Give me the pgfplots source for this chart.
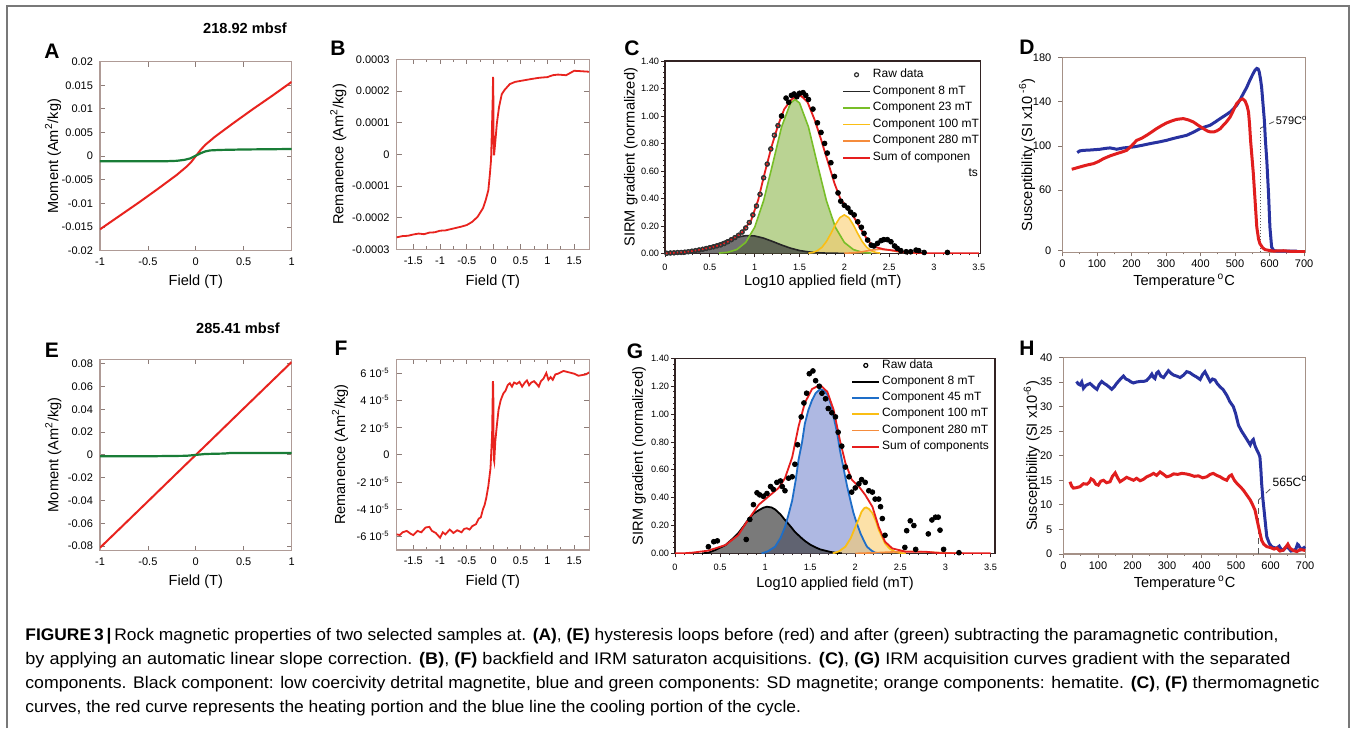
\documentclass[border=0pt]{standalone}
\usepackage{fontspec}
\setmainfont{Liberation Sans}
\usepackage{graphicx}
\usepackage{pgfplots}
\usepackage{pgfplotstable}
\pgfplotsset{compat=1.18}

\definecolor{hred}{RGB}{232,35,30}
\definecolor{hgreen}{RGB}{25,125,55}
\definecolor{boxc}{RGB}{175,155,150}
\definecolor{cbox}{RGB}{50,35,35}
\definecolor{dbox}{RGB}{165,145,135}
\definecolor{tred}{RGB}{225,30,30}
\definecolor{tblue}{RGB}{40,50,160}
\definecolor{cgreenl}{RGB}{120,190,40}
\definecolor{cgreenf}{RGB}{130,175,60}
\definecolor{cyell}{RGB}{250,190,20}
\definecolor{cyellf}{RGB}{250,205,110}
\definecolor{corange}{RGB}{245,140,60}
\definecolor{cblackf}{RGB}{60,60,60}
\definecolor{gbluel}{RGB}{30,110,200}
\definecolor{gbluef}{RGB}{140,155,215}
\definecolor{sumred}{RGB}{230,30,30}
\definecolor{framec}{RGB}{120,120,120}

% ---------- Panel A ----------
\pgfplotstableread{
x y
-1 -0.0155
-0.8 -0.0127
-0.6 -0.0099
-0.4 -0.0070
-0.3 -0.0055
-0.2 -0.0040
-0.1 -0.0023
-0.05 -0.0013
0 0.0000
0.05 0.0013
0.1 0.0024
0.2 0.0041
0.3 0.0056
0.4 0.0071
0.6 0.0100
0.8 0.0128
1 0.0157
}\tAred
\pgfplotstableread{
x y
-1 -0.0011
-0.5 -0.0011
-0.3 -0.00108
-0.2 -0.0010
-0.12 -0.0008
-0.06 -0.0005
0 0.0001
0.05 0.0006
0.1 0.0010
0.15 0.0012
0.25 0.0013
0.5 0.0014
1 0.0015
}\tAgreen
% ---------- Panel B ----------
\pgfplotstableread{
x y
-1.81 -0.000262
-1.7 -0.000258
-1.6 -0.000257
-1.5 -0.000253
-1.4 -0.000250
-1.3 -0.000252
-1.2 -0.000247
-1.1 -0.000246
-1.0 -0.000241
-0.9 -0.000240
-0.8 -0.000236
-0.7 -0.000232
-0.6 -0.000228
-0.5 -0.000223
-0.4 -0.000213
-0.3 -0.000197
-0.2 -0.000170
-0.15 -0.000145
-0.1 -0.000113
-0.07 -0.000060
-0.05 -0.000018
-0.03 0.000100
-0.02 0.000170
-0.012 0.000245
-0.008 0.000220
0.0 0.000000
0.008 0.000000
0.03 0.000040
0.06 0.000100
0.1 0.000150
0.15 0.000190
0.2 0.000203
0.3 0.000222
0.4 0.000229
0.5 0.000232
0.7 0.000238
0.85 0.000242
1.0 0.000244
1.1 0.000250
1.2 0.000252
1.35 0.000250
1.5 0.000264
1.6 0.000263
1.78 0.000261
}\tBred
% ---------- Panel E ----------
\pgfplotstableread{
x y
-1 -0.0815
-0.5 -0.0408
-0.1 -0.0081
0 0.0000
0.1 0.0081
0.5 0.0408
1 0.0815
}\tEred
\pgfplotstableread{
x y
-1 -0.0012
-0.5 -0.0012
-0.1 -0.0008
0 0.0000
0.1 0.0008
0.3 0.0012
0.35 0.0016
1 0.0017
}\tEgreen
% ---------- Panel F ----------
\pgfplotstableread{
x y
-1.81 -5.85e-5
-1.75 -5.9e-5
-1.7 -5.7e-5
-1.62 -5.6e-5
-1.55 -5.8e-5
-1.5 -5.9e-5
-1.42 -5.6e-5
-1.35 -5.7e-5
-1.27 -5.35e-5
-1.2 -5.3e-5
-1.15 -5.6e-5
-1.08 -5.75e-5
-1.0 -6.1e-5
-0.95 -5.7e-5
-0.9 -5.85e-5
-0.82 -5.5e-5
-0.75 -5.75e-5
-0.68 -5.55e-5
-0.6 -5.7e-5
-0.55 -5.45e-5
-0.5 -5.4e-5
-0.45 -5.5e-5
-0.4 -5.25e-5
-0.33 -5.1e-5
-0.28 -4.7e-5
-0.24 -4.6e-5
-0.2 -4.0e-5
-0.17 -3.7e-5
-0.14 -3.2e-5
-0.1 -2.3e-5
-0.06 -1.0e-5
-0.03 1.5e-5
-0.015 5.4e-5
-0.008 5.0e-5
0.0 -0.3e-5
0.01 -0.5e-5
0.03 1.0e-5
0.06 2.2e-5
0.09 3.3e-5
0.13 4.0e-5
0.18 4.5e-5
0.22 4.7e-5
0.26 5.1e-5
0.3 5.25e-5
0.34 5.0e-5
0.38 5.3e-5
0.43 5.2e-5
0.48 5.35e-5
0.53 5.0e-5
0.58 5.3e-5
0.62 5.45e-5
0.66 5.1e-5
0.7 5.3e-5
0.75 5.4e-5
0.8 5.2e-5
0.84 5.0e-5
0.88 5.4e-5
0.93 5.6e-5
0.98 6.0e-5
1.02 5.5e-5
1.06 5.7e-5
1.1 5.5e-5
1.15 5.9e-5
1.2 5.95e-5
1.3 6.15e-5
1.4 6.05e-5
1.5 5.95e-5
1.58 5.8e-5
1.65 5.85e-5
1.72 5.9e-5
1.78 6.05e-5
}\tFred
% ---------- Panel C ----------
\pgfplotstableread{
x y
0 0.001
0.1 0.003
0.2 0.007
0.3 0.014
0.4 0.027
0.5 0.047
0.6 0.071
0.7 0.097
0.8 0.118
0.9 0.129
1.0 0.127
1.1 0.111
1.2 0.087
1.3 0.061
1.4 0.038
1.5 0.021
1.6 0.011
1.7 0.005
1.8 0.002
1.9 0.001
2.0 0.000
}\tCblack
\pgfplotstableread{
x y
0.6 0.002
0.7 0.008
0.8 0.028
0.9 0.080
1.0 0.190
1.1 0.384
1.2 0.648
1.3 0.920
1.4 1.095
1.45 1.120
1.5 1.095
1.6 0.920
1.7 0.648
1.8 0.384
1.9 0.190
2.0 0.080
2.1 0.028
2.2 0.008
2.3 0.002
}\tCgreen
\pgfplotstableread{
x y
1.6 0.002
1.65 0.007
1.7 0.020
1.75 0.044
1.8 0.086
1.85 0.144
1.9 0.208
1.95 0.260
2.0 0.280
2.05 0.260
2.1 0.208
2.15 0.144
2.2 0.086
2.25 0.044
2.3 0.020
2.35 0.007
2.4 0.002
}\tCyellow
\pgfplotstableread{
x y
2.0 0.001
2.1 0.004
2.2 0.012
2.3 0.024
2.4 0.030
2.5 0.024
2.6 0.012
2.7 0.004
2.8 0.001
}\tCorange
\pgfplotstableread{
x y
0 0.000
0.2 0.008
0.33 0.020
0.45 0.035
0.56 0.050
0.7 0.085
0.85 0.146
0.96 0.240
1.04 0.390
1.11 0.580
1.19 0.780
1.26 0.930
1.33 1.050
1.41 1.120
1.47 1.145
1.52 1.145
1.59 1.100
1.67 0.970
1.74 0.830
1.81 0.680
1.89 0.510
1.96 0.390
2.04 0.330
2.11 0.260
2.19 0.170
2.26 0.097
2.33 0.049
2.44 0.030
2.56 0.020
2.70 0.007
2.93 0.000
3.5 0.000
}\tCsum
\pgfplotstableread{
x y
0.02 0.001
0.06 0.003
0.10 0.004
0.14 0.006
0.18 0.007
0.22 0.009
0.26 0.012
0.30 0.016
0.34 0.020
0.38 0.025
0.42 0.030
0.46 0.036
0.50 0.042
0.54 0.048
0.58 0.055
0.62 0.062
0.66 0.072
0.70 0.085
0.74 0.100
0.78 0.115
0.82 0.132
0.86 0.155
0.90 0.185
0.94 0.225
0.98 0.280
1.02 0.345
1.06 0.430
1.10 0.550
1.14 0.650
1.18 0.760
1.22 0.860
1.26 0.930
}\tCrawA
\pgfplotstableread{
x y
1.30 1.000
1.35 1.130
1.38 1.100
1.41 1.150
1.44 1.160
1.47 1.140
1.50 1.165
1.54 1.170
1.57 1.150
1.60 1.120
1.65 1.050
1.70 0.950
1.74 0.880
1.78 0.800
1.81 0.730
1.85 0.660
1.89 0.560
1.93 0.440
1.96 0.380
2.00 0.350
2.04 0.330
2.07 0.300
2.11 0.280
2.15 0.230
2.19 0.190
2.22 0.146
2.26 0.097
2.30 0.060
2.33 0.054
2.37 0.073
2.41 0.093
2.44 0.100
2.48 0.100
2.52 0.085
2.56 0.054
2.59 0.037
2.63 0.020
2.69 0.012
2.74 0.012
2.80 0.024
2.83 0.020
2.89 0.007
3.15 0.007
}\tCrawB
% ---------- Panel G ----------
\pgfplotstableread{
x y
0.30 0.000
0.37 0.005
0.45 0.025
0.56 0.060
0.63 0.100
0.70 0.144
0.76 0.195
0.81 0.240
0.87 0.285
0.93 0.310
0.98 0.328
1.02 0.335
1.07 0.330
1.11 0.316
1.17 0.280
1.22 0.240
1.28 0.195
1.33 0.155
1.39 0.118
1.44 0.090
1.50 0.063
1.56 0.043
1.61 0.029
1.67 0.019
1.72 0.011
1.78 0.005
1.85 0.000
}\tGblack
\pgfplotstableread{
x y
0.96 0.000
1.03 0.015
1.11 0.048
1.17 0.110
1.22 0.190
1.26 0.280
1.30 0.380
1.34 0.530
1.37 0.670
1.41 0.800
1.44 0.930
1.48 1.030
1.52 1.100
1.56 1.150
1.61 1.180
1.65 1.170
1.69 1.140
1.73 1.070
1.76 0.980
1.80 0.860
1.83 0.740
1.87 0.610
1.91 0.480
1.95 0.370
1.98 0.290
2.02 0.210
2.06 0.140
2.10 0.085
2.13 0.048
2.18 0.020
2.22 0.005
2.28 0.000
}\tGblue
\pgfplotstableread{
x y
1.75 0.000
1.82 0.015
1.89 0.048
1.95 0.110
2.00 0.190
2.04 0.250
2.07 0.300
2.10 0.325
2.12 0.330
2.15 0.320
2.19 0.290
2.23 0.230
2.26 0.170
2.30 0.115
2.33 0.072
2.38 0.035
2.44 0.012
2.50 0.003
2.56 0.000
}\tGyellow
\pgfplotstableread{
x y
2.0 0.000
2.2 0.004
2.4 0.010
2.6 0.015
2.8 0.010
3.0 0.004
3.2 0.000
}\tGorange
\pgfplotstableread{
x y
0.00 0.000
0.10 0.001
0.19 0.005
0.37 0.020
0.56 0.060
0.70 0.130
0.81 0.240
0.93 0.350
1.04 0.410
1.15 0.470
1.22 0.540
1.30 0.690
1.37 0.910
1.44 1.080
1.52 1.180
1.61 1.210
1.69 1.160
1.76 1.030
1.83 0.810
1.89 0.650
1.96 0.530
2.04 0.480
2.11 0.420
2.19 0.335
2.26 0.190
2.33 0.084
2.41 0.036
2.56 0.012
2.78 0.012
2.96 0.000
3.5 0.000
}\tGsum
\pgfplotstableread{
x y
0.37 0.048
0.43 0.084
0.47 0.090
0.79 0.100
0.83 0.244
0.87 0.350
0.91 0.435
0.94 0.420
0.98 0.410
1.02 0.430
1.06 0.480
1.09 0.460
1.13 0.510
1.17 0.520
1.19 0.480
1.22 0.450
1.26 0.540
1.30 0.550
1.33 0.640
1.36 0.780
1.40 0.980
1.43 1.080
1.46 1.150
1.49 1.290
1.53 1.310
1.56 1.240
1.60 1.200
1.63 1.150
1.67 1.110
1.70 1.040
1.74 1.010
1.78 0.980
1.81 0.870
1.85 0.770
1.89 0.620
1.93 0.550
1.96 0.440
2.00 0.470
2.04 0.500
2.07 0.530
2.11 0.510
2.15 0.450
2.19 0.440
2.22 0.390
2.26 0.390
2.28 0.335
2.30 0.250
2.33 0.130
2.55 0.043
2.57 0.163
2.61 0.234
2.65 0.200
2.67 0.029
2.81 0.140
2.85 0.240
2.89 0.260
2.92 0.260
2.94 0.167
2.98 0.029
3.15 0.005
}\tGraw
% ---------- Panel D ----------
\pgfplotstableread{
x y
27 78.9
45 80.5
61 81.9
75 83
90 84
105 86
119 88.5
138 91
157 93
172 94.5
186 96
200 100
215 105
230 107
244 109.6
258 112.5
273 115.7
288 118.5
302 120.8
316 122.5
331 124
350 124.7
365 123.5
379 121.7
394 118.5
408 115.7
420 113.5
428 112.7
440 112.8
447 113.6
457 115.5
466 118.7
476 122
486 126.2
495 132
505 138.3
516 141.9
522 142.5
529 140.7
535 136
539 130.7
542 120
545 105
549 90
553 75
558 51
563 26.7
568 16
572 11.7
580 8
587 6.3
600 5.5
611 5
640 5.3
660 4.8
688 4.5
703 4.5
}\tDred
\pgfplotstableread{
x y
43 94
50 95.5
61 96
80 96.3
109 97
125 97.8
138 98.2
150 97.5
157 97
170 97.8
177 98.2
206 99.1
230 100.5
254 102.1
280 103.6
302 105.1
316 106.3
331 107.5
345 108.5
360 109.6
380 112.5
399 115.7
414 117.3
428 118.7
442 121.5
457 124.7
472 127.7
486 130.7
495 133.5
505 136.8
515 142
524 147.3
534 153
543 159.4
551 164.5
558 168.5
563 170
567 169.5
570 167
574 160
577 153
581 138
585 123
588 105
592 87
597 57
601 26.7
606 8.6
612 5.5
621 5
650 5
680 5
}\tDblue
% ---------- Panel H ----------
\pgfplotstableread{
x y
38 35.1
43 34.6
48 34.4
53 35.0
58 33.7
65 34.3
77 34.7
88 34.0
97 33.5
104 34.5
111 35.1
118 34.7
125 34.4
132 34.0
140 33.5
147 34.0
154 34.7
164 35.5
174 36.2
181 35.6
188 35.4
196 35.0
203 34.8
212 35.0
222 35.1
232 35.1
241 35.3
249 35.9
256 36.6
260 36.0
265 35.7
270 36.8
275 37.1
282 36.2
290 35.9
297 36.6
304 37.3
311 36.8
319 36.4
328 36.2
338 35.9
348 36.4
357 37.1
366 36.9
376 36.4
386 36.0
396 35.5
403 36.5
410 37.1
418 36.0
425 35.1
432 35.6
439 35.4
446 34.6
454 34.0
463 33.4
473 32.3
482 31.0
492 30.0
499 28.5
507 26.2
516 25.0
526 23.9
534 23.0
541 22.2
546 23.0
550 23.3
555 22.0
560 21.2
565 20.5
569 19.8
572 17.0
574 14.4
578 11.0
582 8.3
586 5.5
589 3.5
596 2.2
603 1.5
610 1.3
618 1.2
625 1.6
630 1.0
637 0.8
645 1.4
652 1.2
659 0.6
666 0.7
673 1.0
678 2.0
681 1.8
688 0.9
695 1.2
700 1.5
}\tHblue
\pgfplotstableread{
x y
19 14.7
24 13.8
29 13.4
38 13.5
48 13.7
58 14.3
68 14.2
75 14.6
80 15.3
87 15.0
94 14.2
101 14.0
108 14.8
116 15.0
125 14.5
135 14.7
142 15.8
150 16.5
157 15.5
164 14.7
173 15.1
183 15.6
193 15.3
203 15.0
212 15.4
222 14.9
232 15.2
241 15.7
251 16.0
261 16.4
270 16.0
280 16.7
290 16.2
299 15.7
309 15.9
319 16.3
331 16.2
343 16.4
355 16.3
367 16.1
379 15.8
391 15.9
403 15.5
415 15.7
425 16.2
434 16.4
444 16.0
454 15.7
463 15.3
473 15.0
480 15.8
487 16.1
495 15.0
502 14.4
512 13.7
521 13.0
531 12.0
541 11.0
548 10.0
555 8.9
560 7.2
565 5.6
570 4.0
574 2.8
580 2.0
589 1.5
600 1.3
610 1.0
618 1.2
627 0.6
637 0.8
646 1.6
650 2.0
656 1.2
666 0.7
676 0.5
686 0.9
695 0.8
700 0.7
}\tHred

\pgfplotsset{
  /pgf/number format/assume math mode=true,
  every axis/.append style={scale only axis, anchor=south west, scaled ticks=false,
     label style={font=\fontsize{7.3}{8.5}\selectfont},
     tick label style={font=\fontsize{5.5}{6.5}\selectfont},
     xlabel style={anchor=center, inner sep=0pt}, ylabel style={anchor=center, inner sep=0pt}},
  hyst/.style={tick pos=both, tick align=inside, major tick length=2.5pt, minor tick length=1.5pt,
     axis line style={draw=boxc, line width=0.6pt}, tick style={draw=boxc!80!black, line width=0.4pt}},
  irm/.style={tick pos=left, tick align=outside, major tick length=2pt, minor tick length=1pt,
     axis line style={draw=cbox, line width=0.7pt}, tick style={draw=cbox, line width=0.4pt},
     tick label style={font=\fontsize{4.6}{5.5}\selectfont},
     yticklabel style={inner xsep=0.8pt},
     xmin=0, xmax=3.52, ymin=0, ymax=1.4,
     xtick={0,0.5,1,1.5,2,2.5,3,3.5}, xticklabels={0,0.5,1,1.5,2,2.5,3,3.5},
     ytick={0,0.2,0.4,0.6,0.8,1,1.2,1.4},
     yticklabels={0.00,0.20,0.40,0.60,0.80,1.00,1.20,1.40},
     minor x tick num=4, minor y tick num=4,
     xlabel={Log10 applied field (mT)}, ylabel={SIRM gradient (normalized)},
     legend cell align=left,
     legend style={draw=none, fill=none, font=\fontsize{6}{7}\selectfont, inner sep=0pt,
        row sep=1.8pt, nodes={inner xsep=1pt, inner ysep=0.4pt}},
     legend image code/.code={\draw[mark repeat=2,mark phase=2,##1] plot coordinates {(0pt,0pt) (6.75pt,0pt) (13.5pt,0pt)};}},
  thermo/.style={tick pos=left, tick align=outside, major tick length=2pt, minor tick length=1pt,
     axis line style={draw=dbox, line width=0.6pt}, tick style={draw=dbox!80!black, line width=0.4pt},
     xtick={0,100,200,300,400,500,600,700}, minor x tick num=1,
     xticklabel style={inner ysep=1.5pt},
     xlabel={Temperature\,\textsuperscript{o}C}},
}

\newsavebox\capboxA

\begin{document}
\sbox\capboxA{\fontsize{8.4}{10}\selectfont\textbf{FIGURE\,3\,|}\,Rock magnetic properties of two selected samples at. \textbf{(A)}, \textbf{(E)} hysteresis loops before (red) and after (green) subtracting the paramagnetic contribution,}%
\pgfmathsetmacro\capf{626.5/\wd\capboxA}%
\begin{tikzpicture}
\path[use as bounding box] (0,0) rectangle (677pt,364pt);
\fill[white] (0,0) rectangle (677pt,364pt);
\draw[framec, line width=0.9pt] (3.5pt,0pt) -- (3.5pt,361pt) -- (674.5pt,361pt) -- (674.5pt,0pt);

% panel letters and titles
\begin{scope}[every node/.style={font=\fontsize{10.5}{12}\selectfont\bfseries, inner sep=0pt}]
\node at (26pt,338.5pt) {A};
\node at (169pt,340pt) {B};
\node at (316pt,340pt) {C};
\node at (513.5pt,340.5pt) {D};
\node at (26pt,189pt) {E};
\node at (170.5pt,190pt) {F};
\node at (317.5pt,188.5pt) {G};
\node at (513.5pt,190pt) {H};
\end{scope}
\node[font=\fontsize{7.3}{8.5}\selectfont\bfseries] at (122.5pt,350pt) {218.92 mbsf};
\node[font=\fontsize{7.3}{8.5}\selectfont\bfseries] at (119pt,200pt) {285.41 mbsf};

% ---------- A ----------
\begin{axis}[hyst, at={(50pt,238.7pt)}, width=95.8pt, height=94.5pt,
  xmin=-1, xmax=1, ymin=-0.02, ymax=0.02,
  xtick={-1,-0.5,0,0.5,1}, xticklabels={-1,-0.5,0,0.5,1},
  ytick={-0.02,-0.015,-0.01,-0.005,0,0.005,0.01,0.015,0.02},
  yticklabels={-0.02,-0.015,-0.01,-0.005,0,0.005,0.01,0.015,0.02},
  xlabel={Field (T)}, ylabel={Moment (Am\textsuperscript{2}/kg)},
  xlabel style={at={(axis description cs:0.5,-0.165)}},
  ylabel style={at={(axis description cs:-0.245,0.5)}}]
\addplot[hred, line width=1pt] table {\tAred};
\addplot[hgreen, line width=1.1pt] table {\tAgreen};
\end{axis}

% ---------- B ----------
\begin{axis}[hyst, at={(198.3pt,239.3pt)}, width=96.3pt, height=95pt,
  xmin=-1.81, xmax=1.78, ymin=-0.0003, ymax=0.0003,
  xtick={-1.5,-1,-0.5,0,0.5,1,1.5}, xticklabels={-1.5,-1,-0.5,0,0.5,1,1.5},
  minor x tick num=1,
  ytick={-0.0003,-0.0002,-0.0001,0,0.0001,0.0002,0.0003},
  yticklabels={-0.0003,-0.0002,-0.0001,0,0.0001,0.0002,0.0003},
  xlabel={Field (T)}, ylabel={Remanence (Am\textsuperscript{2}/kg)},
  xlabel style={at={(axis description cs:0.5,-0.172)}},
  ylabel style={at={(axis description cs:-0.303,0.5)}}]
\addplot[hred, line width=0.9pt] table {\tBred};
\end{axis}

% ---------- C ----------
\begin{axis}[irm, at={(332.5pt,237.3pt)}, width=157.8pt, height=96.2pt,
  xlabel style={at={(axis description cs:0.5,-0.148)}},
  ylabel style={at={(axis description cs:-0.108,0.5)}},
  legend style={at={(0.56,0.965)}, anchor=north west}]
\addplot[fill=cgreenf, fill opacity=0.55, draw=none, forget plot] table {\tCgreen} \closedcycle;
\addplot[fill=cblackf, fill opacity=0.72, draw=none, forget plot] table {\tCblack} \closedcycle;
\addplot[fill=cyellf, fill opacity=0.6, draw=none, forget plot] table {\tCyellow} \closedcycle;
\addplot[only marks, mark=o, mark size=1.0pt, mark options={black!80, line width=0.6pt}] table {\tCrawA};
\addlegendentry{Raw data}
\addplot[black!85, line width=0.8pt] table {\tCblack};
\addlegendentry{Component 8 mT}
\addplot[cgreenl, line width=0.8pt] table {\tCgreen};
\addlegendentry{Component 23 mT}
\addplot[cyell, line width=0.8pt] table {\tCyellow};
\addlegendentry{Component 100 mT}
\addplot[corange, line width=0.8pt] table {\tCorange};
\addlegendentry{Component 280 mT}
\addplot[sumred, line width=0.9pt] table {\tCsum};
\addlegendentry{Sum of componen}
\addplot[only marks, mark=*, mark size=1.2pt, mark options={fill=black, draw=black}, forget plot] table {\tCrawB};
\addplot[only marks, mark=o, mark size=1.0pt, mark options={black!80, line width=0.6pt}, forget plot] table {\tCrawA};
\node[anchor=east, font=\fontsize{6}{7}\selectfont, inner sep=0pt] at (rel axis cs:0.993,0.418) {ts};
\end{axis}

% ---------- D ----------
\begin{axis}[thermo, at={(531.2pt,237.8pt)}, width=121.7pt, height=97.5pt,
  xmin=0, xmax=705, ymin=3.8, ymax=180,
  xticklabels={0,100,200,300,400,500,600,700},
  ytick={5.3,60,100,140,180}, yticklabels={0,60,100,140,180},
  minor y tick num=3,
  ylabel={Susceptibility (SI x10\textsuperscript{ -6})},
  xlabel style={at={(axis description cs:0.5,-0.15)}},
  ylabel style={at={(axis description cs:-0.145,0.5)}}]
\draw[densely dotted, gray!70!black, line width=0.5pt] (axis cs:573,3.8) -- (axis cs:573,116);
\draw[densely dashed, gray!70!black, line width=0.4pt] (axis cs:573,116) -- (axis cs:613,122);
\addplot[tblue, line width=1.5pt] table {\tDblue};
\addplot[tred, line width=1.5pt] table {\tDred};
\node[anchor=west, font=\fontsize{5.5}{6.5}\selectfont, inner sep=0.5pt] at (axis cs:614,123) {579C\textsuperscript{o}};
\end{axis}

% ---------- E ----------
\begin{axis}[hyst, at={(50pt,88.7pt)}, width=95.8pt, height=95.7pt,
  xmin=-1, xmax=1, ymin=-0.084, ymax=0.084,
  xtick={-1,-0.5,0,0.5,1}, xticklabels={-1,-0.5,0,0.5,1},
  ytick={-0.08,-0.06,-0.04,-0.02,0,0.02,0.04,0.06,0.08},
  yticklabels={-0.08,-0.06,-0.04,-0.02,0,0.02,0.04,0.06,0.08},
  xlabel={Field (T)}, ylabel={Moment (Am\textsuperscript{2}/kg)},
  xlabel style={at={(axis description cs:0.5,-0.162)}},
  ylabel style={at={(axis description cs:-0.244,0.5)}}]
\addplot[hred, line width=1pt] table {\tEred};
\addplot[hgreen, line width=1.1pt] table {\tEgreen};
\end{axis}

% ---------- F ----------
\begin{axis}[hyst, at={(198.3pt,89pt)}, width=96.3pt, height=95.3pt,
  xmin=-1.81, xmax=1.78, ymin=-7e-5, ymax=7e-5,
  xtick={-1.5,-1,-0.5,0,0.5,1,1.5}, xticklabels={-1.5,-1,-0.5,0,0.5,1,1.5},
  minor x tick num=1,
  ytick={-6e-5,-4e-5,-2e-5,0,2e-5,4e-5,6e-5},
  yticklabels={-6 10\textsuperscript{-5},-4 10\textsuperscript{-5},-2 10\textsuperscript{-5},0,2 10\textsuperscript{-5},4 10\textsuperscript{-5},6 10\textsuperscript{-5}},
  xlabel={Field (T)}, ylabel={Remanence (Am\textsuperscript{2}/kg)},
  xlabel style={at={(axis description cs:0.5,-0.166)}},
  ylabel style={at={(axis description cs:-0.294,0.5)}}]
\addplot[hred, line width=0.9pt] table {\tFred};
\end{axis}

% ---------- G ----------
\begin{axis}[irm, at={(337.5pt,87.3pt)}, width=160pt, height=97.5pt, xmax=3.55,
  xlabel style={at={(axis description cs:0.5,-0.154)}},
  ylabel style={at={(axis description cs:-0.112,0.5)}},
  legend style={at={(0.55,1.0)}, anchor=north west, row sep=1.6pt}]
\addplot[fill=gbluef, fill opacity=0.7, draw=none, forget plot] table {\tGblue} \closedcycle;
\addplot[fill=cblackf, fill opacity=0.68, draw=none, forget plot] table {\tGblack} \closedcycle;
\addplot[fill=cyellf, fill opacity=0.6, draw=none, forget plot] table {\tGyellow} \closedcycle;
\addlegendimage{only marks, mark=o, mark size=1.0pt, mark options={black, line width=0.6pt}}
\addlegendentry{Raw data}
\addplot[black, line width=0.9pt] table {\tGblack};
\addlegendentry{Component 8 mT}
\addplot[gbluel, line width=0.9pt] table {\tGblue};
\addlegendentry{Component 45 mT}
\addplot[cyell, line width=0.9pt] table {\tGyellow};
\addlegendentry{Component 100 mT}
\addplot[corange, line width=0.8pt] table {\tGorange};
\addlegendentry{Component 280 mT}
\addplot[sumred, line width=0.9pt] table {\tGsum};
\addlegendentry{Sum of components}
\addplot[only marks, mark=*, mark size=1.2pt, mark options={fill=black, draw=black}, forget plot] table {\tGraw};
\end{axis}

% ---------- H ----------
\begin{axis}[thermo, at={(531.7pt,87pt)}, width=121.2pt, height=98.3pt,
  xmin=0, xmax=702, ymin=0, ymax=40,
  xticklabels={0,100,200,300,400,500,600,700},
  ytick={0,5,10,15,20,25,30,35,40}, yticklabels={0,5,10,15,20,25,30,35,40},
  ylabel={Susceptibility (SI x10\textsuperscript{-6})},
  xlabel style={at={(axis description cs:0.5,-0.148)}},
  ylabel style={at={(axis description cs:-0.13,0.5)}}]
\draw[densely dashed, gray!70!black, line width=0.5pt] (axis cs:565,0) -- (axis cs:565,11);
\draw[densely dashed, gray!70!black, line width=0.4pt] (axis cs:565,11) -- (axis cs:605,13.6);
\addplot[tblue, line width=1.5pt] table {\tHblue};
\addplot[tred, line width=1.5pt] table {\tHred};
\node[anchor=west, font=\fontsize{6}{7}\selectfont, inner sep=0.5pt] at (axis cs:602,14.7) {565C\textsuperscript{o}};
\end{axis}

% ---------- caption ----------
\begin{scope}[every node/.style={anchor=base west, inner sep=0pt, font=\fontsize{8.4}{10}\selectfont}]
\node at (12.5pt,43.5pt) {\resizebox{626.5pt}{\height}{\usebox\capboxA}};
\node at (12.5pt,31.5pt) {\resizebox{632.5pt}{\height}{by applying an automatic linear slope correction. \textbf{(B)}, \textbf{(F)} backfield and IRM saturaton acquisitions. \textbf{(C)}, \textbf{(G)} IRM acquisition curves gradient with the separated}};
\node at (12.5pt,19.5pt) {\resizebox{647pt}{\height}{components. Black component: low coercivity detrital magnetite, blue and green components: SD magnetite; orange components: hematite. \textbf{(C)}, \textbf{(F)} thermomagnetic}};
\node at (12.5pt,8pt) {\scalebox{\capf}[1]{curves, the red curve represents the heating portion and the blue line the cooling portion of the cycle.}};
\end{scope}
\end{tikzpicture}
\end{document}
